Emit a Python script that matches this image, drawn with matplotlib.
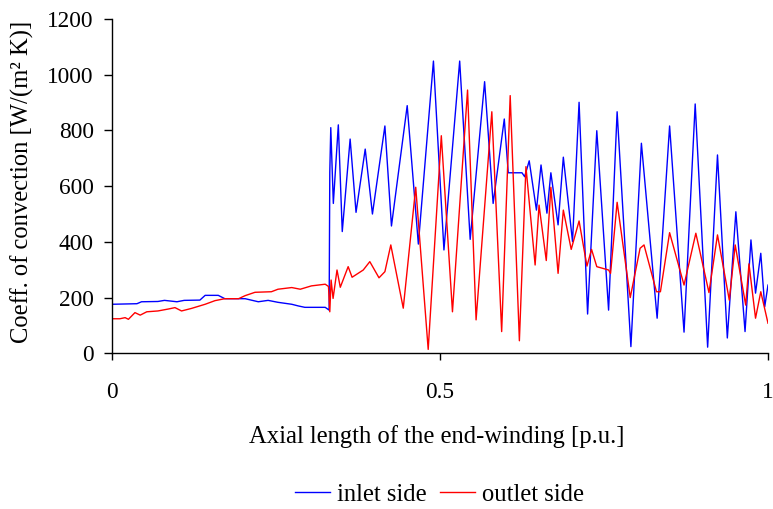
import matplotlib
matplotlib.use("Agg")
import matplotlib.pyplot as plt

plt.rcParams['font.family'] = ['Liberation Serif', 'DejaVu Serif']

# ---- data ----
inlet_x = [0.000, 0.038, 0.045, 0.070, 0.080, 0.099, 0.110, 0.134, 0.142, 0.162,
           0.172, 0.203, 0.223, 0.238, 0.253, 0.274, 0.284, 0.294, 0.325, 0.331,
           0.332, 0.3335, 0.3374, 0.345, 0.351, 0.363, 0.372, 0.386, 0.397, 0.416,
           0.426, 0.450, 0.467, 0.490, 0.506, 0.530, 0.546, 0.568, 0.581, 0.598,
           0.604, 0.625, 0.629, 0.636, 0.647, 0.654, 0.663, 0.669, 0.680, 0.688,
           0.702, 0.712, 0.725, 0.739, 0.757, 0.770, 0.791, 0.807, 0.831, 0.850,
           0.872, 0.889, 0.908, 0.923, 0.938, 0.951, 0.965, 0.974, 0.981, 0.989,
           0.995, 1.000]
inlet_y = [176, 178, 185, 186, 190, 185, 190, 191, 208, 208,
           196, 196, 185, 190, 183, 176, 170, 165, 165, 155,
           650, 810, 538, 820, 437, 769, 506, 733, 500, 816,
           457, 889, 392, 1049, 371, 1049, 409, 975, 538, 841,
           648, 648, 634, 691, 514, 676, 503, 648, 461, 704,
           401, 901, 141, 799, 155, 867, 24, 754, 126, 816,
           76, 895, 22, 712, 55, 508, 78, 407, 216, 359,
           167, 245]

outlet_x = [0.000, 0.012, 0.020, 0.025, 0.035, 0.043, 0.053, 0.070, 0.086, 0.096,
            0.106, 0.121, 0.142, 0.157, 0.172, 0.193, 0.203, 0.218, 0.243, 0.253,
            0.274, 0.287, 0.304, 0.325, 0.330, 0.332, 0.334, 0.337, 0.343, 0.348,
            0.360, 0.366, 0.383, 0.393, 0.407, 0.416, 0.425, 0.444, 0.463, 0.482,
            0.502, 0.519, 0.542, 0.555, 0.579, 0.594, 0.607, 0.621, 0.631, 0.645,
            0.651, 0.662, 0.669, 0.680, 0.688, 0.700, 0.712, 0.724, 0.731, 0.739,
            0.757, 0.760, 0.770, 0.790, 0.805, 0.811, 0.830, 0.836, 0.850, 0.872,
            0.890, 0.910, 0.923, 0.941, 0.950, 0.966, 0.971, 0.981, 0.989, 1.000]
outlet_y = [124, 124, 128, 122, 146, 137, 149, 152, 159, 164,
            152, 161, 176, 189, 196, 196, 207, 219, 221, 230,
            236, 230, 242, 248, 240, 149, 263, 197, 299, 237,
            311, 273, 299, 329, 271, 293, 389, 162, 596, 14,
            781, 149, 945, 120, 867, 78, 925, 45, 670, 317,
            532, 333, 596, 287, 514, 373, 475, 313, 373, 311,
            299, 287, 542, 200, 377, 389, 221, 221, 433, 245,
            431, 218, 425, 191, 389, 173, 321, 126, 221, 108]

x_ticks = [0, 0.5, 1]
x_tick_labels = ["0", "0.5", "1"]
y_ticks = [0, 200, 400, 600, 800, 1000, 1200]
series_labels = ["inlet side", "outlet side"]

# ---- figure ----
fig = plt.figure(figsize=(7.73, 5.09), dpi=100)
ax = fig.add_axes([112/773, 1 - 353.3/509, 656/773, 334.3/509])

ax.plot(inlet_x, inlet_y, color=(0, 0, 1), lw=1.0, label=series_labels[0])
ax.plot(outlet_x, outlet_y, color=(1, 0, 0), lw=1.0, label=series_labels[1])

ax.set_xlim(0, 1)
ax.set_ylim(0, 1200)
ax.set_xticks(x_ticks)
ax.set_xticklabels(x_tick_labels)
ax.set_yticks(y_ticks)

for s in ['top', 'right']:
    ax.spines[s].set_visible(False)
for s in ['left', 'bottom']:
    ax.spines[s].set_linewidth(1.0)

ax.tick_params(axis='y', direction='out', length=6, width=1, pad=7, labelsize=16.8)
ax.tick_params(axis='x', direction='out', length=5, width=1, pad=16, labelsize=16.8)

ax.set_xlabel("Axial length of the end-winding [p.u.]", fontsize=17.7)
ax.xaxis.set_label_coords(0.495, -0.25)
ax.xaxis.label.set_va('center')

ax.set_ylabel("Coeff. of convection [W/(m² K)]", fontsize=17.7)
ax.yaxis.set_label_coords(-0.1364, 0.512)
ax.yaxis.label.set_va('center')

fig.legend(loc='center', bbox_to_anchor=(0.569, 0.028), ncol=2, frameon=False,
           fontsize=17.7, handlelength=1.4, handletextpad=0.3, columnspacing=0.55,
           borderaxespad=0)

fig.savefig("out.png", dpi=100)
